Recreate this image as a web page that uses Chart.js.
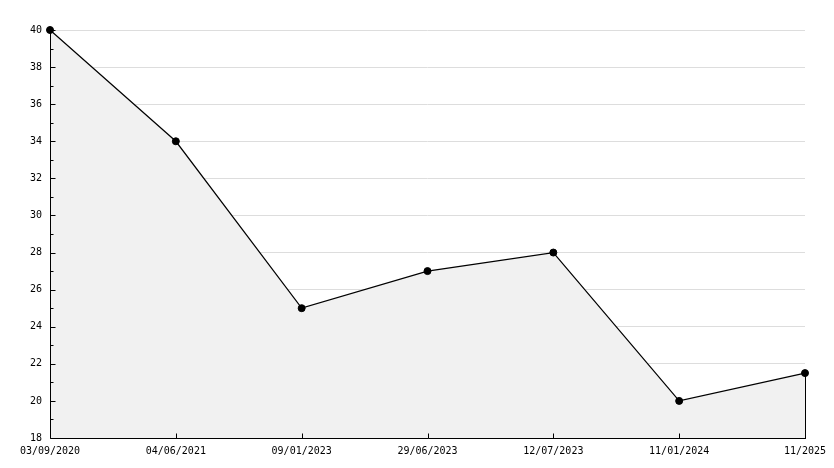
<!DOCTYPE html>
<html>
<head>
<meta charset="utf-8">
<script src="https://cdn.jsdelivr.net/npm/chart.js@4"></script>
<style>
  html, body { margin: 0; padding: 0; background: #fff; }
  #wrap { width: 834px; height: 468px; }
</style>
</head>
<body>
<div id="wrap"><canvas id="chart" width="834" height="468"></canvas></div>
<script>
// data
const labels = ["03/09/2020", "04/06/2021", "09/01/2023", "29/06/2023", "12/07/2023", "11/01/2024", "11/2025"];
const values = [40, 34, 25, 27, 28, 20, 21.5];
const yMin = 18;
const yMax = 40;
const yStep = 2;

// axis lines, inward tick marks + closing edge of the fill
const innerTicks = {
  id: "innerTicks",
  afterDatasetsDraw(chart) {
    const ctx = chart.ctx;
    const area = chart.chartArea;
    const ys = chart.scales.y;
    const xs = chart.scales.x;
    const left = Math.round(area.left) + 0.5;
    const bottom = Math.round(area.bottom) + 0.5;
    ctx.save();
    ctx.strokeStyle = "#000";
    ctx.lineWidth = 1;
    ctx.beginPath();
    // axis lines
    ctx.moveTo(left, Math.round(area.top));
    ctx.lineTo(left, bottom);
    ctx.lineTo(Math.round(area.right) + 1, bottom);
    for (let v = yMin; v <= yMax; v++) {
      const py = Math.round(ys.getPixelForValue(v)) + 0.5;
      const len = v % yStep === 0 ? 5 : 3;
      ctx.moveTo(left, py);
      ctx.lineTo(left + len, py);
    }
    for (let i = 1; i < labels.length; i++) {
      const px = Math.round(xs.getPixelForTick(i)) + 0.5;
      ctx.moveTo(px, bottom);
      ctx.lineTo(px, bottom - 5);
    }
    // right edge of the filled area
    const last = labels.length - 1;
    const lx = Math.round(xs.getPixelForValue(last)) + 0.5;
    ctx.moveTo(lx, ys.getPixelForValue(values[last]));
    ctx.lineTo(lx, bottom);
    ctx.stroke();
    ctx.restore();
  }
};

new Chart(document.getElementById("chart").getContext("2d"), {
  type: "line",
  data: {
    labels: labels,
    datasets: [
      {
        data: values,
        borderColor: "#000",
        borderWidth: 1.2,
        backgroundColor: "#f1f1f1",
        fill: "start",
        tension: 0,
        pointRadius: 3.5,
        pointBackgroundColor: "#000",
        pointBorderColor: "#000",
        pointBorderWidth: 1,
        clip: false,
      },
    ],
  },
  options: {
    responsive: false,
    animation: false,
    layout: { padding: { top: 30, right: 29, left: 0, bottom: 0 } },
    plugins: { legend: { display: false }, tooltip: { enabled: false } },
    scales: {
      x: {
        offset: false,
        grid: { display: false, drawTicks: false },
        border: { display: false },
        ticks: {
          color: "#000",
          font: { family: "DejaVu Sans Mono", size: 10 },
          maxRotation: 0,
          autoSkip: false,
          padding: 7,
        },
        afterFit(scale) { scale.height = 30; },
      },
      y: {
        min: yMin,
        max: yMax,
        grid: { color: "#dddddd", drawTicks: false },
        border: { display: false },
        ticks: {
          stepSize: yStep,
          color: "#000",
          font: { family: "DejaVu Sans Mono", size: 10 },
          padding: 8,
        },
        afterFit(scale) { scale.width = 50; },
      },
    },
  },
  plugins: [innerTicks],
});
</script>
</body>
</html>
